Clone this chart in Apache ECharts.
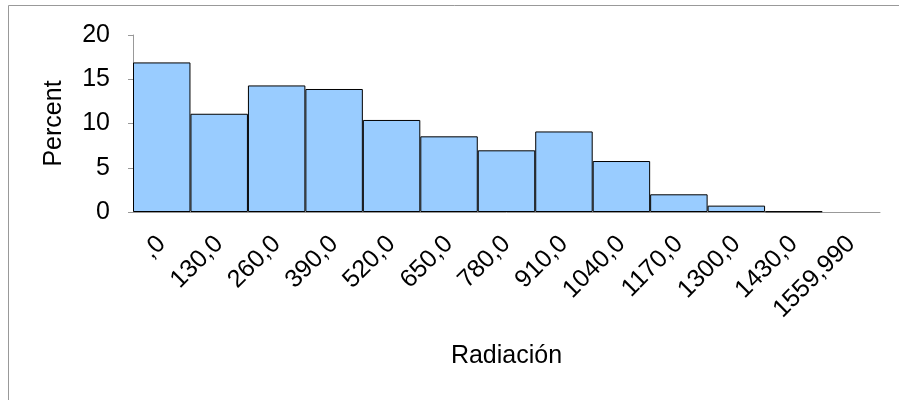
<!DOCTYPE html>
<html>
<head>
<meta charset="utf-8">
<script src="https://cdn.jsdelivr.net/npm/echarts@6/dist/echarts.min.js"></script>
<style>html,body{margin:0;padding:0;background:#fff}#c{width:899px;height:400px}</style>
</head>
<body>
<div id="c"></div>
<script>
const categories = [',0','130,0','260,0','390,0','520,0','650,0','780,0','910,0','1040,0','1170,0','1300,0','1430,0','1559,990'];
const percents = [16.9, 11.1, 14.3, 13.9, 10.4, 8.55, 6.97, 9.1, 5.76, 2.0, 0.72, 0.08, 0];
const yTicks = [0, 5, 10, 15, 20];
const xTitle = 'Radiación';
const yTitle = 'Percent';

const font = 'Liberation Sans, Arial, sans-serif';
const chart = echarts.init(document.getElementById('c'), null, {renderer: 'canvas'});
chart.setOption({
  animation: false,
  graphic: [{
    type: 'rect', shape: {x: 8.5, y: 5.5, width: 900, height: 400},
    style: {fill: 'none', stroke: '#999', lineWidth: 1}, silent: true
  }],
  grid: {left: 133, right: 19, top: 35, bottom: 188},
  xAxis: {
    type: 'category', data: categories,
    name: xTitle, nameLocation: 'middle', nameGap: 132,
    nameTextStyle: {fontFamily: font, fontSize: 25, color: '#000'},
    axisLine: {lineStyle: {color: '#999', width: 1}},
    axisTick: {show: false},
    axisLabel: {rotate: 45, margin: 28, interval: 0, fontFamily: font, fontSize: 25, color: '#000'}
  },
  yAxis: {
    type: 'value', min: yTicks[0], max: yTicks[yTicks.length - 1], interval: 5,
    name: yTitle, nameLocation: 'middle', nameGap: 66,
    nameTextStyle: {fontFamily: font, fontSize: 25, color: '#000'},
    axisLine: {show: true, lineStyle: {color: '#999', width: 1}},
    axisTick: {show: true, length: 5, lineStyle: {color: '#999'}},
    splitLine: {show: false},
    axisLabel: {margin: 23, fontFamily: font, fontSize: 25, color: '#000'}
  },
  series: [{
    type: 'bar',
    data: percents.map(v => v === 0 ? {value: v, itemStyle: {borderWidth: 0}} : v),
    barCategoryGap: '0%',
    itemStyle: {color: '#99CCFF', borderColor: '#000', borderWidth: 1}
  }]
});
</script>
</body>
</html>
